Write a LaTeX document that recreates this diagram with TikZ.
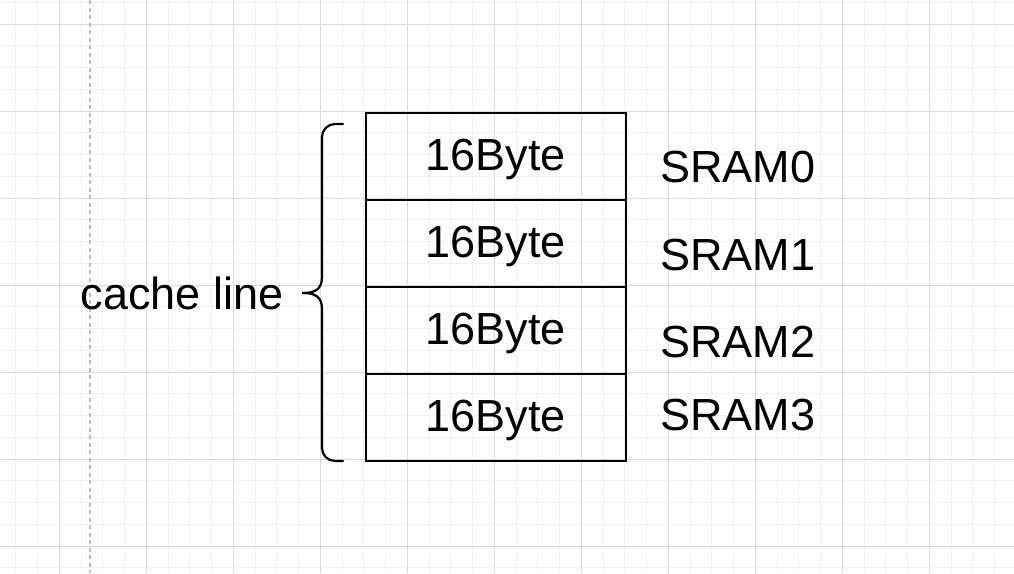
\documentclass[tikz,border=0pt]{standalone}
\usepackage{fontspec}
\setmainfont{Liberation Sans}
\usetikzlibrary{positioning}
\definecolor{gridminor}{HTML}{F1F1F1}
\definecolor{gridmajor}{HTML}{D9D9D9}
\definecolor{guide}{HTML}{BDBDBD}
\begin{document}
\begin{tikzpicture}[x=1pt, y=-1pt,
                    big/.style={font=\fontsize{45}{54}\selectfont},
                    cell/.style={big, draw, line width=2.2pt, minimum width=260pt,
                                 minimum height=87pt, inner sep=0pt, outer sep=0pt,
                                 text height=32pt, text depth=4pt},
                    lbl/.style={big, inner sep=0pt, anchor=base west},
                    brc/.style={line width=2.2pt, line cap=round},
                    minorline/.style={draw=gridminor, line width=1pt},
                    majorline/.style={draw=gridmajor, line width=1pt}]
    \useasboundingbox[fill=white] (0,0) rectangle (1014,573);

    % background grid
    \foreach \i in {0,...,48} {
        \draw[minorline] ({-27.7+21.75*\i},0) -- ++(0,573);
    }
    \foreach \i in {0,...,26} {
        \draw[minorline] (0,{2.25+21.75*\i}) -- ++(1014,0);
    }
    \foreach \i in {0,...,12} {
        \draw[majorline] ({-27.7+87*\i},0) -- ++(0,573);
    }
    \foreach \i in {0,...,6} {
        \draw[majorline] (0,{24+87*\i}) -- ++(1014,0);
    }
    \draw[guide, line width=1.5pt, dash pattern=on 4pt off 3.5pt] (90,0) -- (90,573);

    % cache line cells
    \node[cell] (b0) at (495.9,156.8)   {16Byte};
    \node[cell, below=0pt of b0] (b1)   {16Byte};
    \node[cell, below=0pt of b1] (b2)   {16Byte};
    \node[cell, below=0pt of b2] (b3)   {16Byte};

    \node[lbl] (s0) at (660,182.3) {SRAM0};
    \node[lbl] (s1) at (660,270)   {SRAM1};
    \node[lbl] (s2) at (660,357.3) {SRAM2};
    \node[lbl] (s3) at (660,430.7) {SRAM3};

    % brace
    \coordinate (tp) at (343,124);
    \coordinate (bt) at (343,461);
    \coordinate (cusp) at (303,293);
    \draw[brc, rounded corners=13pt] (tp) -- (322,124) -- (322,277);
    \draw[brc] (322,277) .. controls (322,290) and (314,293) .. (cusp);
    \draw[brc] (cusp) .. controls (314,293) and (322,296) .. (322,309);
    \draw[brc, rounded corners=13pt] (322,309) -- (322,461) -- (bt);
    \node[big, inner sep=0pt, anchor=base east] (cl) at (283.5,309.3) {cache line};
\end{tikzpicture}
\end{document}
